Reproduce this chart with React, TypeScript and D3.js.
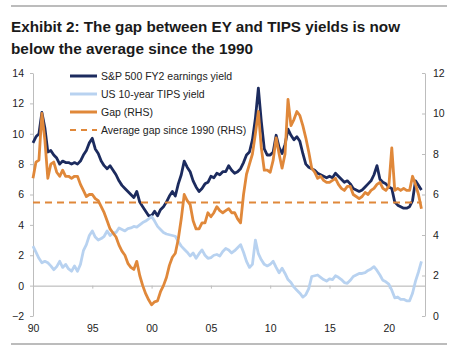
import {useLayoutEffect, useRef} from 'react'
import * as d3 from 'd3'

const WIDTH = 457
const HEIGHT = 350
const PLOT = {left: 33, right: 425, top: 73, bottom: 316}

// quarterly readings, first point = 1990 Q1
const START_YEAR = 1990

const earningsYield = [
  9.4, 9.8, 10.0, 11.4,
  10.4, 8.8, 8.9, 8.6,
  8.4, 8.0, 8.2, 8.1,
  8.1, 8.0, 8.1, 8.0,
  8.2, 8.6, 8.9, 9.4,
  9.7, 9.0, 8.7, 8.2,
  7.9, 7.7, 7.9, 7.6,
  7.3, 6.9, 6.6, 6.4,
  6.2, 6.0, 5.8, 6.2,
  5.5, 5.2, 4.9, 4.6,
  4.6, 4.9, 4.6, 5.0,
  5.2, 5.5, 5.9, 6.2,
  5.9, 6.7, 7.3, 8.2,
  7.8, 7.5, 6.9, 6.5,
  6.2, 6.4, 6.7, 6.8,
  7.2, 7.1, 7.4, 7.3,
  7.5, 7.5, 7.9, 7.6,
  7.4, 7.5, 7.7, 8.1,
  8.6, 8.8, 9.6, 11.0,
  13.0, 10.8, 9.0, 8.6,
  8.6, 8.8, 9.9, 9.1,
  8.7, 9.3, 10.3, 9.9,
  9.6, 9.8, 9.5, 8.7,
  8.0, 7.8, 7.7, 7.6,
  7.4, 7.3, 7.2, 7.1,
  7.2, 7.1, 7.4, 7.2,
  7.0, 6.8, 6.9, 6.7,
  6.4, 6.3, 6.2, 6.3,
  6.5, 6.7, 6.9, 7.3,
  7.9, 7.0, 6.8, 6.7,
  6.5, 6.4, 5.5, 5.3,
  5.2, 5.1, 5.1, 5.2,
  5.6, 6.9, 6.6, 6.3,
]

const tipsYield = [
  2.6, 2.2, 1.8, 1.5,
  1.6, 1.5, 1.3, 1.05,
  1.25, 1.6, 1.2, 1.4,
  1.1, 0.95, 1.3, 0.95,
  1.4, 2.3, 2.7, 3.3,
  3.6, 3.2, 3.0, 3.1,
  3.25, 3.6, 3.3, 3.45,
  3.5, 3.8, 3.7, 3.6,
  3.75, 3.8, 3.9, 3.85,
  4.0, 4.15, 4.25, 4.4,
  4.55, 4.25, 3.9, 3.7,
  3.5, 3.4, 3.35, 3.3,
  3.25, 2.9, 2.6, 2.4,
  2.2, 1.95, 2.15, 1.8,
  2.1, 2.35, 2.0, 1.8,
  1.85, 2.0, 2.05, 1.95,
  2.25, 2.45, 2.35, 2.15,
  2.3, 2.5, 2.7, 2.2,
  1.6, 1.2, 1.4, 3.0,
  2.1, 1.7, 1.4, 1.3,
  1.4, 1.6, 1.2, 0.85,
  1.15, 0.8, 0.4, 0.2,
  -0.1, -0.3, -0.5, -0.75,
  -0.6, -0.2, 0.6, 0.65,
  0.7, 0.55, 0.4, 0.3,
  0.45, 0.4, 0.65, 0.55,
  0.4, 0.2, 0.15, 0.35,
  0.6, 0.7, 0.8, 0.8,
  0.85, 1.0, 1.1, 1.25,
  1.0, 0.7, 0.35, 0.25,
  0.1, -0.3, -0.8, -0.75,
  -0.9, -0.9, -1.0, -1.0,
  -0.5, 0.3, 0.9, 1.6,
]

// gap, plotted against the right hand axis
const gapRhs = [
  6.8, 7.6, 7.7, 10.0,
  8.7, 6.8, 7.5, 7.6,
  7.1, 6.9, 7.2, 6.9,
  6.9, 6.8, 6.9, 6.9,
  6.5, 6.2, 5.9, 6.0,
  6.0, 5.8, 5.7, 5.4,
  5.1, 4.7, 4.3, 4.1,
  3.9, 3.5, 3.2, 3.0,
  2.6, 2.4, 2.3, 2.7,
  2.0, 1.5, 1.1, 0.8,
  0.55, 0.7, 0.75, 1.2,
  1.5, 1.9, 2.5, 2.9,
  3.1, 3.8, 4.8, 6.0,
  5.7, 5.5, 4.7, 4.3,
  4.3, 4.6, 4.6, 5.1,
  4.9, 5.1, 5.4, 5.2,
  5.1, 5.2, 5.3, 5.1,
  5.1, 4.8, 4.6, 6.0,
  7.0, 7.5, 8.0, 9.0,
  10.1, 8.3, 7.2, 7.2,
  7.1, 7.7, 8.8, 8.0,
  7.3, 8.0, 10.7, 9.4,
  9.7, 10.1, 9.9, 9.4,
  8.8, 8.1, 7.3, 7.1,
  6.8, 6.9, 6.7, 6.6,
  6.6, 6.7, 6.8, 6.5,
  6.3, 6.2, 6.4, 6.4,
  6.0, 5.9, 5.8, 5.9,
  6.1, 6.0, 6.2, 6.3,
  6.5, 6.6, 6.3, 6.2,
  6.4, 8.3, 6.2, 6.3,
  6.2, 6.3, 6.2, 6.2,
  6.9, 6.5, 6.0, 5.3,
]

const averageGap = 5.6

const yearTicks = [1990, 1995, 2000, 2005, 2010, 2015, 2020]
const leftTicks = [-2, 0, 2, 4, 6, 8, 10, 12, 14]
const rightTicks = [0, 2, 4, 6, 8, 10, 12]

const titleLines = [
  'Exhibit 2: The gap between EY and TIPS yields is now',
  'below the average since the 1990',
]
const titleWidths = [389, 242]

const NAVY = '#1c2b5e'
const LIGHT_BLUE = '#b8d2f0'
const ORANGE = '#e0883a'
const AXIS_GREY = '#bdbdbd'
const FONT = "'Liberation Sans', Arial, sans-serif"

const legendItems = [
  {label: 'S&P 500 FY2 earnings yield', color: NAVY, dashed: false},
  {label: 'US 10-year TIPS yield', color: LIGHT_BLUE, dashed: false},
  {label: 'Gap (RHS)', color: ORANGE, dashed: false},
  {label: 'Average gap since 1990 (RHS)', color: ORANGE, dashed: true},
]

type Point = {t: number; v: number}

const toPoints = (values: number[]): Point[] =>
  values.map((v, i) => ({t: START_YEAR + i / 4, v}))

export default function App() {
  const leftAxisRef = useRef<SVGGElement>(null)
  const rightAxisRef = useRef<SVGGElement>(null)
  const xAxisRef = useRef<SVGGElement>(null)

  const xScale = d3.scaleLinear().domain([1990, 2023.05]).range([PLOT.left, PLOT.right])
  const yLeft = d3.scaleLinear().domain([-2, 14]).range([PLOT.bottom, PLOT.top])
  const yRight = d3.scaleLinear().domain([0, 12]).range([PLOT.bottom, PLOT.top])

  const leftLine = d3
    .line<Point>()
    .x(d => xScale(d.t))
    .y(d => yLeft(d.v))
  const rightLine = d3
    .line<Point>()
    .x(d => xScale(d.t))
    .y(d => yRight(d.v))

  const eyPoints = toPoints(earningsYield)
  const tipsPoints = toPoints(tipsYield)
  const gapPoints = toPoints(gapRhs)
  const lastT = gapPoints[gapPoints.length - 1].t

  useLayoutEffect(() => {
    const styleAxis = (g: d3.Selection<SVGGElement, unknown, null, undefined>) => {
      g.selectAll('.domain').attr('stroke', AXIS_GREY)
      g.selectAll('.tick line').attr('stroke', AXIS_GREY)
      g.selectAll('.tick text')
        .attr('fill', '#222')
        .style('font-family', FONT)
        .style('font-size', '10.5px')
    }

    const left = d3.select(leftAxisRef.current!)
    left.selectAll('*').remove()
    left.call(d3.axisLeft(yLeft).tickValues(leftTicks).tickSizeInner(3).tickSizeOuter(0).tickPadding(6))
    styleAxis(left)

    const right = d3.select(rightAxisRef.current!)
    right.selectAll('*').remove()
    right.call(
      d3.axisRight(yRight).tickValues(rightTicks).tickSizeInner(-3).tickSizeOuter(0).tickPadding(8),
    )
    styleAxis(right)

    const bottom = d3.select(xAxisRef.current!)
    bottom.selectAll('*').remove()
    bottom.call(
      d3
        .axisBottom(xScale)
        .tickValues(yearTicks)
        .tickFormat(d => String(d).slice(2))
        .tickSizeInner(3)
        .tickSizeOuter(0)
        .tickPadding(36),
    )
    styleAxis(bottom)
    bottom.selectAll('.domain').attr('stroke', '#b0b0b0')
  })

  return (
    <svg
      width={WIDTH}
      height={HEIGHT}
      style={{position: 'absolute', left: 0, top: 0, background: '#fff'}}>
      <line x1={11} x2={447} y1={6} y2={6} stroke="#a6a6a6" strokeWidth={1.5} />
      <line x1={11} x2={447} y1={344} y2={344} stroke="#a6a6a6" strokeWidth={1.5} />

      {titleLines.map((line, i) => (
        <text
          key={i}
          x={11}
          y={32 + i * 22}
          fill="#1a1a1a"
          fontWeight="bold"
          fontSize={15}
          textLength={titleWidths[i]}
          lengthAdjust="spacingAndGlyphs"
          style={{fontFamily: "'Liberation Sans Narrow', 'Arial Narrow', 'Liberation Sans', sans-serif"}}>
          {line}
        </text>
      ))}

      <g ref={xAxisRef} transform={`translate(0,${yLeft(0)})`} />
      <g ref={leftAxisRef} transform={`translate(${PLOT.left},0)`} />
      <g ref={rightAxisRef} transform={`translate(${PLOT.right},0)`} />

      <path
        d={leftLine(eyPoints) ?? ''}
        fill="none"
        stroke={NAVY}
        strokeWidth={2.8}
        strokeLinejoin="round"
      />
      <path
        d={leftLine(tipsPoints) ?? ''}
        fill="none"
        stroke={LIGHT_BLUE}
        strokeWidth={2.8}
        strokeLinejoin="round"
      />
      <line
        x1={PLOT.left}
        x2={xScale(lastT)}
        y1={yRight(averageGap)}
        y2={yRight(averageGap)}
        stroke={ORANGE}
        strokeWidth={2}
        strokeDasharray="7,5"
      />
      <path
        d={rightLine(gapPoints) ?? ''}
        fill="none"
        stroke={ORANGE}
        strokeWidth={2.8}
        strokeLinejoin="round"
      />

      {legendItems.map((item, i) => {
        const y = 76 + i * 18
        return (
          <g key={item.label}>
            <line
              x1={70}
              x2={97}
              y1={y}
              y2={y}
              stroke={item.color}
              strokeWidth={item.dashed ? 2 : 3}
              strokeDasharray={item.dashed ? '6,5' : undefined}
            />
            <text
              x={101}
              y={y}
              dy="0.35em"
              fill="#222"
              fontSize={10.5}
              style={{fontFamily: FONT}}>
              {item.label}
            </text>
          </g>
        )
      })}
    </svg>
  )
}
